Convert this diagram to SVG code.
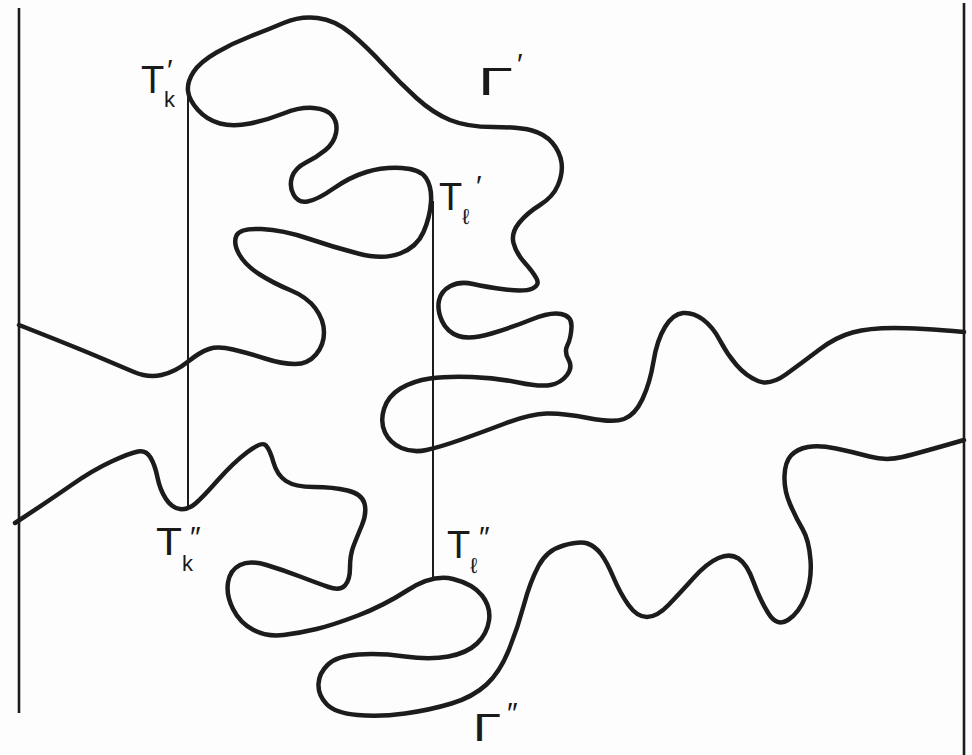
<svg xmlns="http://www.w3.org/2000/svg" width="972" height="755" viewBox="0 0 972 755">
<style>
.curve{fill:none;stroke:#1c1c1c;stroke-width:4.5;stroke-linecap:round;stroke-linejoin:round}
.border{stroke:#1c1c1c;stroke-width:2.6;fill:none}
.vert{stroke:#1c1c1c;stroke-width:2;fill:none}
.lab{font-family:"Liberation Sans","DejaVu Sans",sans-serif;fill:#1a1a1a}
.big{font-size:38px}
.sub{font-size:22px}
.pr{font-size:30px}
</style>
<rect width="972" height="755" fill="#fdfdfd"/>
<g id="frame">
<line class="border" x1="19" y1="8" x2="19" y2="713"/>
<line class="border" x1="964" y1="3" x2="964" y2="755"/>
</g>
<g id="gamma-prime">
<path class="curve" d="M19,325 Q70,345 95,355.5 Q120,366 134,372 Q148,378 161.5,375 Q175,372 187.5,362 Q200,352 209,349 Q218,346 233,349.5 Q248,353 265,358.5 Q282,364 295,364 Q308,364 316,354.5 Q324,345 324,332.5 Q324,320 315.5,308.5 Q307,297 290,290 Q273,283 259,274 Q245,265 239,254 Q233,243 236.5,235.5 Q240,228 261.5,229 Q283,230 308,238.5 Q333,247 358,253.5 Q383,260 400,253.5 Q417,247 423.5,232 Q430,217 431,202 Q432,187 426,178 Q420,169 401.5,168 Q383,167 366.5,172 Q350,177 333.5,188.5 Q317,200 307.5,201.5 Q298,203 293.5,194.5 Q289,186 292,177 Q295,168 306,162.5 Q317,157 325.5,150 Q334,143 336,133 Q338,123 332.5,116 Q327,109 313.5,108 Q300,107 283.5,113.5 Q267,120 250,123.5 Q233,127 220,123.5 Q207,120 198,110 Q189,100 188,91 Q187,82 193.5,72 Q200,62 216.5,52.5 Q233,43 250,36.5 Q267,30 283.5,23 Q300,16 317.5,18 Q335,20 351,33.5 Q367,47 383.5,65 Q400,83 416.5,98 Q433,113 450,120 Q467,127 493,127 Q519,127 532,130.5 Q545,134 552.5,143 Q560,152 561.5,162.5 Q563,173 558,185 Q553,197 540,205 Q527,213 519,223 Q511,233 513.5,243 Q516,253 524.5,262.5 Q533,272 536.5,278.5 Q540,285 532.5,288.5 Q525,292 505.5,289.5 Q486,287 473,284 Q460,281 450.5,286 Q441,291 439,300.5 Q437,310 442,321 Q447,332 458.5,336 Q470,340 491.5,333.5 Q513,327 531.5,319.5 Q550,312 561,314 Q572,316 571.5,327 Q571,338 567.5,345 Q564,352 568.5,359.5 Q573,367 567,375 Q561,383 550.5,385 Q540,387 518.5,382.5 Q497,378 472,377 Q447,376 430,378.5 Q413,381 400.5,388.5 Q388,396 384,409 Q380,422 385,432.5 Q390,443 401.5,448 Q413,453 426.5,450 Q440,447 460,440 Q480,433 505,423.5 Q530,414 546.5,413.5 Q563,413 588,418 Q613,423 624,419 Q635,415 642.5,399 Q650,383 653.5,361.5 Q657,340 665,327 Q673,314 683,313 Q693,312 703,319.5 Q713,327 720,340.5 Q727,354 736.5,365 Q746,376 758,381 Q770,386 786.5,374 Q803,362 819.5,349.5 Q836,337 852.5,332.5 Q869,328 894,328 Q919,328 964,332"/>
</g>
<g id="gamma-double-prime">
<path class="curve" d="M15,523 Q50,500 71.5,485 Q93,470 111.5,461.5 Q130,453 138,451.5 Q146,450 150.5,457.5 Q155,465 157.5,477.5 Q160,490 166,499 Q172,508 180,509 Q188,510 195.5,503.5 Q203,497 218,480 Q233,463 247.5,452 Q262,441 266,445.5 Q270,450 273.5,462.5 Q277,475 286,481 Q295,487 314,487 Q333,487 347.5,490.5 Q362,494 364.5,503.5 Q367,513 362,525 Q357,537 353.5,546 Q350,555 350,567.5 Q350,580 345,585.5 Q340,591 328.5,587 Q317,583 300,576.5 Q283,570 266.5,565 Q250,560 240,565 Q230,570 228,582.5 Q226,595 233,609 Q240,623 253.5,630 Q267,637 283.5,635 Q300,633 316.5,629 Q333,625 358,615.5 Q383,606 408,590 Q433,574 453,579 Q473,584 482,595.5 Q491,607 489,620.5 Q487,634 477,643.5 Q467,653 448.5,656.5 Q430,660 405,656.5 Q380,653 358.5,654.5 Q337,656 328,664.5 Q319,673 318.5,684 Q318,695 326.5,704 Q335,713 357.5,715 Q380,717 405,713.5 Q430,710 451.5,703.5 Q473,697 486.5,684.5 Q500,672 509,649.5 Q518,627 524,604.5 Q530,582 538.5,566 Q547,550 563.5,545.5 Q580,541 587.5,543.5 Q595,546 601,554 Q607,562 613.5,577.5 Q620,593 628.5,605 Q637,617 647,617 Q657,617 668.5,605 Q680,593 693.5,578 Q707,563 718.5,558 Q730,553 738.5,558.5 Q747,564 753.5,582 Q760,600 768.5,613.5 Q777,627 788,620 Q799,613 805.5,596.5 Q812,580 810.5,560 Q809,540 802.5,529 Q796,518 790,504 Q784,490 784.5,476 Q785,462 791,455.5 Q797,449 808,447 Q819,445 836,448.5 Q853,452 869.5,456.5 Q886,461 902.5,457 Q919,453 964,440"/>
</g>
<g id="connectors">
<line class="vert" x1="188" y1="92" x2="188" y2="507"/>
<line class="vert" x1="433" y1="201" x2="433" y2="578"/>
</g>
<g id="label-Tk1" class="lab">
<text class="big" x="141" y="93">T</text>
<text class="sub" x="164" y="107">k</text>
<text class="pr" x="167" y="80">′</text>
</g>
<g id="label-Tl1" class="lab">
<text class="big" x="439" y="210">T</text>
<text class="sub" x="462" y="224">ℓ</text>
<text class="pr" x="476" y="196">′</text>
</g>
<g id="label-G1" class="lab">
<text class="big" x="478" y="95" textLength="35" lengthAdjust="spacingAndGlyphs">Γ</text>
<text class="pr" x="517" y="74">′</text>
</g>
<g id="label-Tk2" class="lab">
<text class="big" x="156" y="555" textLength="26" lengthAdjust="spacingAndGlyphs">T</text>
<text class="sub" x="182" y="571">k</text>
<text class="pr" x="190" y="547">″</text>
</g>
<g id="label-Tl2" class="lab">
<text class="big" x="447" y="558">T</text>
<text class="sub" x="470" y="573">ℓ</text>
<text class="pr" x="479" y="547">″</text>
</g>
<g id="label-G2" class="lab">
<text class="big" x="473" y="741" textLength="28" lengthAdjust="spacingAndGlyphs">Γ</text>
<text class="pr" x="507" y="723">″</text>
</g>
</svg>
